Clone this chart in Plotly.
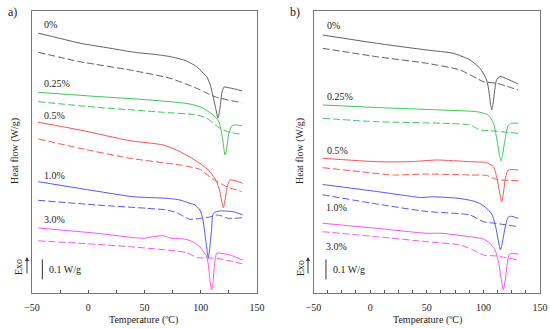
import plotly.graph_objects as go

W, H = 550, 329

# ---------------- data (T in degC, heat flow in W/g, vertically offset) ----------------
series_names = ["0%", "0.25%", "0.5%", "1.0%", "3.0%"]
colors = ["#5f5f5f", "#3cc85a", "#f25555", "#5555f2", "#f255f2"]

# ---- panel a) ----
a_T_0s = [-44.4, -25.1, -7.3, 19.3, 43.1, 59.3, 72.7, 86, 96.4, 102, 105.3, 108.2, 110.9, 113.6, 115.3, 117.1, 118.9, 120.7, 124.2, 130.4, 136.7]
a_Q_0s = [1.299, 1.273, 1.249, 1.224, 1.202, 1.193, 1.182, 1.163, 1.132, 1.10, 1.082, 1.045, 0.985, 0.915, 0.875, 0.925, 1.005, 1.03, 1.027, 1.02, 1.01]
a_T_0d = [-44.4, -7.3, 37.1, 72.7, 96.4, 104, 114.2, 136.4]
a_Q_0d = [1.2035, 1.1565, 1.115, 1.0735, 1.0235, 1.003, 0.9785, 0.9515]

a_T_025s = [-44.4, 10.4, 54.9, 90.4, 102.3, 112.7, 116.2, 118.9, 120.7, 121.6, 122.9, 124.7, 126.9, 128.9, 136.4]
a_Q_025s = [1.0035, 0.9815, 0.965, 0.945, 0.9235, 0.8815, 0.855, 0.79, 0.715, 0.69, 0.715, 0.79, 0.83, 0.84, 0.8365]
a_T_025d = [-44.4, 7.5, 66.7, 96.4, 105.3, 117.1, 126, 136.4]
a_Q_025d = [0.9565, 0.9285, 0.9035, 0.89, 0.8735, 0.8235, 0.8035, 0.7935]

a_T_05s = [-44.4, -7.3, 37.1, 66.7, 81.6, 99.3, 108.2, 114.2, 117.1, 118.9, 120, 121.6, 123.3, 126, 131.6, 137.3]
a_Q_05s = [0.8535, 0.815, 0.7615, 0.74, 0.7065, 0.6485, 0.6065, 0.5565, 0.505, 0.45, 0.4265, 0.465, 0.525, 0.565, 0.56, 0.5485]
a_T_05d = [-44.4, -7.3, 37.1, 81.6, 99.3, 109.7, 123.1, 136.4]
a_Q_05d = [0.77, 0.7235, 0.6735, 0.64, 0.618, 0.5735, 0.5315, 0.5065]

a_T_10s = [-44.4, 10.4, 40, 69.7, 81.6, 90.4, 94.9, 99.3, 102, 104.4, 106.2, 106.7, 107.8, 109.6, 111.2, 117.1, 128.9, 137.3]
a_Q_10s = [0.5565, 0.5065, 0.4815, 0.4735, 0.465, 0.4485, 0.44, 0.415, 0.365, 0.265, 0.19, 0.1735, 0.215, 0.315, 0.3985, 0.41, 0.4065, 0.39]
a_T_10d = [-44.4, 7.5, 52, 69.7, 78.6, 84.2, 90.4, 99.3, 108.2, 114.2, 118.9, 124.2, 137.3]
a_Q_10d = [0.4635, 0.44, 0.4235, 0.415, 0.4015, 0.385, 0.3685, 0.3735, 0.38, 0.39, 0.385, 0.3735, 0.3765]

a_T_30s = [-44.4, 7.5, 48.9, 57.8, 66.7, 72.7, 87.5, 94.9, 99.3, 105.3, 107.3, 108.7, 109.7, 110.9, 112.2, 114.2, 118.9, 126, 137.3]
a_Q_30s = [0.325, 0.2985, 0.2735, 0.2815, 0.2865, 0.275, 0.2675, 0.25, 0.23, 0.1815, 0.115, 0.04, 0.015, 0.055, 0.14, 0.1985, 0.1975, 0.19, 0.165]
a_T_30d = [-44.4, 37.1, 87.5, 96.4, 104.7, 114.2, 136.7]
a_Q_30d = [0.261, 0.2315, 0.2015, 0.1775, 0.175, 0.1735, 0.1465]

# ---- panel b) ----
b_T_0s = [-41.9, 5.8, 50, 73.4, 88.2, 97, 102.9, 105, 106.3, 107.4, 108.5, 109.8, 111.6, 114.7, 119.1, 130.8]
b_Q_0s = [1.29, 1.2485, 1.215, 1.1985, 1.165, 1.1235, 1.065, 1.005, 0.945, 0.915, 0.945, 1.005, 1.065, 1.0825, 1.075, 1.045]
b_T_0d = [-41.9, 5.8, 50, 79.4, 94.1, 99.9, 111.8, 130.8]
b_Q_0d = [1.2235, 1.1815, 1.1485, 1.115, 1.0735, 1.0565, 1.0485, 1.015]

b_T_025s = [-41.9, 5.8, 63.2, 94.1, 102.3, 105.8, 109.4, 112, 114.2, 115.6, 116.9, 119.1, 121.7, 125, 130.8]
b_Q_025s = [0.94, 0.9275, 0.915, 0.9065, 0.895, 0.8815, 0.84, 0.765, 0.69, 0.66, 0.69, 0.765, 0.835, 0.8485, 0.8485]
b_T_025d = [-41.9, 5.8, 64.6, 88.2, 97, 105.8, 130.8]
b_Q_025d = [0.8735, 0.8565, 0.8485, 0.84, 0.815, 0.8115, 0.7985]

b_T_05s = [-41.9, 5.8, 35.2, 58.8, 88.2, 102.9, 108.8, 112, 114.2, 116.2, 117.8, 119.5, 122, 130.8]
b_Q_05s = [0.6735, 0.6565, 0.6565, 0.665, 0.6565, 0.6515, 0.6315, 0.575, 0.505, 0.4565, 0.505, 0.575, 0.615, 0.615]
b_T_05d = [-41.9, -8.9, 20.5, 50, 88.2, 102.9, 111.8, 130.8]
b_Q_05d = [0.6265, 0.6065, 0.59, 0.595, 0.59, 0.5875, 0.5675, 0.5615]

b_T_10s = [-41.9, 5.8, 45.5, 54.4, 77.9, 92.6, 99.9, 107.4, 111.1, 113.4, 115.1, 116.9, 119.1, 121.7, 124, 130.8]
b_Q_10s = [0.5425, 0.5075, 0.4775, 0.481, 0.4735, 0.4575, 0.4375, 0.395, 0.325, 0.255, 0.215, 0.255, 0.325, 0.3775, 0.3835, 0.3735]
b_T_10d = [-41.9, 5.8, 50, 88.2, 99.9, 111.8, 130.8]
b_Q_10d = [0.491, 0.445, 0.4075, 0.39, 0.3565, 0.3475, 0.3315]

b_T_30s = [-41.9, 5.8, 50, 63.2, 86.7, 99.9, 105.8, 110.3, 113.4, 115.6, 117.6, 119.5, 121.3, 123.1, 130.8]
b_Q_30s = [0.3485, 0.3235, 0.2985, 0.2985, 0.2825, 0.27, 0.2485, 0.215, 0.155, 0.075, 0.015, 0.075, 0.155, 0.195, 0.195]
b_T_30d = [-41.9, 5.8, 50, 79.4, 91.1, 99.9, 111.8, 130.8]
b_Q_30d = [0.3065, 0.2815, 0.2565, 0.24, 0.215, 0.19, 0.185, 0.165]

x_ticks = [-50, 0, 50, 100, 150]
scale_bar_value = 0.1      # W/g
scale_bar_base = 0.068

panel_a = [(a_T_0s, a_Q_0s, a_T_0d, a_Q_0d), (a_T_025s, a_Q_025s, a_T_025d, a_Q_025d),
           (a_T_05s, a_Q_05s, a_T_05d, a_Q_05d), (a_T_10s, a_Q_10s, a_T_10d, a_Q_10d),
           (a_T_30s, a_Q_30s, a_T_30d, a_Q_30d)]
panel_b = [(b_T_0s, b_Q_0s, b_T_0d, b_Q_0d), (b_T_025s, b_Q_025s, b_T_025d, b_Q_025d),
           (b_T_05s, b_Q_05s, b_T_05d, b_Q_05d), (b_T_10s, b_Q_10s, b_T_10d, b_Q_10d),
           (b_T_30s, b_Q_30s, b_T_30d, b_Q_30d)]

# ---------------- figure ----------------
FONT = "Liberation Serif, Times New Roman, serif"
def px(x): return x / W
def py(y): return 1 - y / H

fig = go.Figure()
for panel, xa, ya in [(panel_a, "x", "y"), (panel_b, "x2", "y2")]:
    for (Ts, Qs, Td, Qd), c, n in zip(panel, colors, series_names):
        fig.add_trace(go.Scatter(x=Ts, y=Qs, mode="lines", xaxis=xa, yaxis=ya, name=n,
                                 line=dict(color=c, width=1, shape="spline", smoothing=0.6),
                                 showlegend=False, hoverinfo="skip"))
        fig.add_trace(go.Scatter(x=Td, y=Qd, mode="lines", xaxis=xa, yaxis=ya, name=n,
                                 line=dict(color=c, width=1, dash="7px,3px", shape="spline", smoothing=0.6),
                                 showlegend=False, hoverinfo="skip"))

y_top = (293 - 11) * 0.005
axis_common = dict(range=[-50, 150], tickvals=x_ticks, ticks="inside", ticklen=3, tickcolor="#555",
                   showline=True, mirror=True, linecolor="#777", linewidth=1, showgrid=False,
                   zeroline=False, automargin=False, ticklabelstandoff=5,
                   tickfont=dict(family=FONT, size=10, color="#222"))
yaxis_common = dict(range=[0, y_top], showticklabels=False, ticks="", showline=True, mirror=True,
                    linecolor="#777", linewidth=1, showgrid=False, zeroline=False, automargin=False)

fig.update_layout(
    width=W, height=H, margin=dict(l=0, r=0, t=0, b=0, pad=0, autoexpand=False),
    plot_bgcolor="white", paper_bgcolor="white",
    font=dict(family=FONT, size=10, color="#222"),
    xaxis=dict(domain=[px(32), px(257)], anchor="y",
               minor=dict(dtick=25, ticks="inside", ticklen=3, tickcolor="#555"), **axis_common),
    yaxis=dict(domain=[py(293), py(11)], anchor="x", **yaxis_common),
    xaxis2=dict(domain=[px(313.5), px(540)], anchor="y2",
                minor=dict(dtick=12.5, ticks="inside", ticklen=3, tickcolor="#555"), **axis_common),
    yaxis2=dict(domain=[py(293), py(11)], anchor="x2", **yaxis_common),
)

# scale bars
for xa, ya, T0 in [("x", "y", -40.8), ("x2", "y2", -39.0)]:
    fig.add_shape(type="line", xref=xa, yref=ya, x0=T0, x1=T0,
                  y0=scale_bar_base, y1=scale_bar_base + scale_bar_value,
                  line=dict(color="#333", width=1))
    fig.add_annotation(xref=xa, yref=ya, x=T0 + 4.5, y=scale_bar_base + scale_bar_value / 2,
                       text="%g W/g" % scale_bar_value, showarrow=False, xanchor="left",
                       yanchor="middle", font=dict(family=FONT, size=10, color="#222"))

ann = []
label_pos_a = [(42, 24), (42, 84), (42, 115), (42, 175), (42, 219)]
label_pos_b = [(325, 26), (325, 96), (325, 150), (324, 207), (324, 246)]
for (lx, ly), n in list(zip(label_pos_a, series_names)) + list(zip(label_pos_b, series_names)):
    ann.append(dict(x=px(lx), y=py(ly), text=n, xanchor="left"))
ann += [
    dict(x=px(6), y=py(12), text="a)", xanchor="left", font=dict(size=12)),
    dict(x=px(288), y=py(12), text="b)", xanchor="left", font=dict(size=12)),
    dict(x=px(15), y=py(151), text="Heat flow (W/g)", textangle=-90),
    dict(x=px(300), y=py(151), text="Heat flow (W/g)", textangle=-90),
    dict(x=px(18), y=py(267), text="Exo", textangle=-90),
    dict(x=px(300), y=py(268), text="Exo", textangle=-90),
    dict(x=px(143), y=py(320), text="Temperature (ºC)"),
    dict(x=px(427), y=py(320), text="Temperature (ºC)"),
]
for a in ann:
    f = dict(family=FONT, size=10, color="#222")
    f.update(a.pop("font", {}))
    a.setdefault("xanchor", "center")
    fig.add_annotation(xref="paper", yref="paper", showarrow=False, font=f, yanchor="middle", **a)

# Exo arrows
for ax_px in [27, 308]:
    fig.add_annotation(xref="paper", yref="paper", x=px(ax_px), y=py(257), ax=0, ay=18,
                       text="", showarrow=True, arrowhead=2, arrowsize=0.8, arrowwidth=1,
                       arrowcolor="#333")

fig.write_html("out.html", config={"displayModeBar": False},
               post_script="document.body.style.margin='0';")
